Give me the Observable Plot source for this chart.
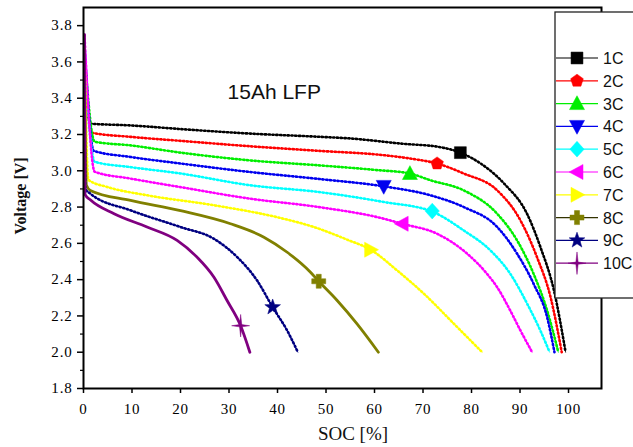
<!DOCTYPE html>
<html><head><meta charset="utf-8">
<script src="https://cdn.jsdelivr.net/npm/d3@7"></script>
<script src="https://cdn.jsdelivr.net/npm/@observablehq/plot@0.6"></script>
<style>body{margin:0;background:#fff}</style>
</head><body><div id="chart"></div>
<script>
// ---- data ----
const seriesNames = ["1C","2C","3C","4C","5C","6C","7C","8C","9C","10C"];
const seriesColors = ["#000000","#ff0000","#00ee00","#0000ee","#00ffff","#ff00ff","#ffff00","#808000","#000080","#800080"];
const c1 = [[0.2,3.55],[1.4,3.26],[9.7,3.25],[20,3.23],[34.4,3.205],[48.9,3.187],[55.1,3.178],[65.4,3.15],[73.6,3.13],[77.7,3.10],[81.9,3.04],[86.7,2.93],[91.5,2.76],[94.2,2.58],[97,2.34],[99.4,2.0]];
const c2 = [[0.2,3.6],[1.6,3.21],[9.7,3.187],[20,3.165],[34.4,3.135],[48.5,3.11],[61.9,3.086],[68,3.065],[72.9,3.04],[78.4,2.985],[85.3,2.892],[90.1,2.726],[93.5,2.524],[96.3,2.303],[98.6,2.0]];
const c3 = [[0.2,3.65],[2.3,3.16],[9.7,3.14],[20,3.10],[34.4,3.057],[48.5,3.03],[60,3.005],[67.3,2.985],[71.5,2.948],[78.4,2.892],[85.3,2.763],[89.4,2.616],[92.8,2.432],[95.6,2.229],[97.9,2.0]];
const c4 = [[0.2,3.7],[2.1,3.11],[9.7,3.076],[20,3.04],[34.4,2.993],[48.5,2.955],[61.9,2.914],[71.5,2.865],[78.4,2.80],[85.3,2.69],[89.4,2.543],[92.8,2.377],[95.6,2.192],[97.1,2.0]];
const c5 = [[0.2,3.62],[2.3,3.05],[9.7,3.02],[20,2.985],[34.4,2.92],[48.5,2.883],[61.9,2.828],[71.9,2.775],[78.4,2.671],[83.9,2.561],[88,2.432],[91.5,2.266],[94.2,2.119],[96.1,2.0]];
const c6 = [[0.2,3.75],[2.3,2.995],[9.7,2.957],[20,2.91],[34.4,2.846],[48.5,2.80],[61.9,2.736],[65.7,2.708],[72.9,2.653],[79.1,2.543],[83.2,2.432],[85.3,2.358],[88,2.229],[90.1,2.119],[92.5,2.0]];
const c7 = [[0.2,3.68],[1.0,2.95],[5,2.91],[13.1,2.865],[26.9,2.81],[40.6,2.74],[47.5,2.69],[54.4,2.62],[59.2,2.565],[64.7,2.45],[70.2,2.322],[76.4,2.156],[82.2,2.0]];
const c8 = [[0.2,3.6],[0.6,2.92],[1.4,2.892],[9.7,2.837],[20,2.78],[30.3,2.708],[37.2,2.634],[42,2.551],[46.8,2.441],[48.5,2.391],[52.3,2.285],[56.4,2.156],[60.8,2.0]];
const c9 = [[0.2,3.5],[0.4,2.9],[1.4,2.874],[9.7,2.782],[20,2.69],[26.9,2.625],[31.7,2.524],[35.8,2.395],[39,2.248],[42,2.119],[44.2,2.0]];
const c10 = [[0.2,3.75],[0.3,2.87],[1.4,2.84],[6.3,2.763],[13.1,2.69],[19.3,2.616],[23.4,2.524],[26.9,2.413],[29.6,2.285],[32.4,2.146],[34.3,2.0]];
const curves = [c1,c2,c3,c4,c5,c6,c7,c8,c9,c10];
const markerSoc = [77.7,72.9,67.3,61.9,71.9,65.7,59.2,48.5,39.0,32.4];
const markerV   = [3.10,3.04,2.985,2.914,2.778,2.708,2.565,2.391,2.248,2.146];
const xTicks = [0,10,20,30,40,50,60,70,80,90,100];
const yTicks = [1.8,2.0,2.2,2.4,2.6,2.8,3.0,3.2,3.4,3.6,3.8];
const yMinor = [1.9,2.1,2.3,2.5,2.7,2.9,3.1,3.3,3.5,3.7];
const titleText = "15Ah LFP";

const serif = "'Liberation Serif', serif";
const sans = "'Liberation Sans', Arial, sans-serif";

// ---- symbols ----
const poly = (pts) => ({draw(ctx, size){ const r = Math.sqrt(size/Math.PI);
  ctx.moveTo(pts[0][0]*r, pts[0][1]*r); for (let i=1;i<pts.length;i++) ctx.lineTo(pts[i][0]*r, pts[i][1]*r); ctx.closePath(); }});
const ring = (n, ro, ri, rot) => { const p=[]; for(let i=0;i<n*2;i++){const a=rot+i*Math.PI/n; const rr=i%2?ri:ro; p.push([rr*Math.cos(a), rr*Math.sin(a)]);} return p; };
const pent = []; for (let i=0;i<5;i++){const a=-Math.PI/2+i*2*Math.PI/5; pent.push([Math.cos(a)*0.95, Math.sin(a)*0.95]);}
const w = 0.36;
const symbols = [
  poly([[-0.85,-0.85],[0.85,-0.85],[0.85,0.85],[-0.85,0.85]]),
  poly(pent),
  poly([[0,-1.05],[1,0.8],[-1,0.8]]),
  poly([[0,1.05],[1,-0.8],[-1,-0.8]]),
  poly([[0,-1.05],[0.95,0],[0,1.05],[-0.95,0]]),
  poly([[-1.05,0],[0.8,-1],[0.8,1]]),
  poly([[1.05,0],[-0.8,-1],[-0.8,1]]),
  poly([[-w,-1],[w,-1],[w,-w],[1,-w],[1,w],[w,w],[w,1],[-w,1],[-w,w],[-1,w],[-1,-w],[-w,-w]]),
  poly(ring(5,1.1,0.45,-Math.PI/2)),
  poly([[0,-1.5],[0.15,-0.15],[1.2,0],[0.15,0.15],[0,1.5],[-0.15,0.15],[-1.2,0],[-0.15,-0.15]])
];
const markerR = [7,7,7.5,7.5,7.5,7.5,7.5,7,7.5,7.5];
const lineW = [0.8,0.8,0.8,0.8,0.8,0.8,0.8,2.8,0.8,2.8];

const marks = [];
curves.forEach((c,i) => {
  const data = c.map(([x,y]) => ({x,y}));
  marks.push(Plot.line(data, {x:"x", y:"y", stroke: seriesColors[i], strokeWidth: lineW[i], curve:"monotone-x"}));
  if (lineW[i] < 2) marks.push(Plot.line(data, {x:"x", y:"y", stroke: seriesColors[i], strokeWidth: 2.6, strokeDasharray:"1.2,2.6", curve:"monotone-x"}));
});
seriesNames.forEach((n,i) => {
  marks.push(Plot.dot([{x:markerSoc[i], y:markerV[i]}], {x:"x", y:"y", r: markerR[i], symbol: symbols[i], fill: seriesColors[i], stroke: seriesColors[i], strokeWidth: 0.5}));
});
marks.push(Plot.text([{x:29.7, y:3.434, t:titleText}], {x:"x", y:"y", text:"t", textAnchor:"start", fontSize:21, fontFamily: sans, fill:"#111"}));
marks.push(Plot.axisX({ticks: xTicks, tickSize: 5, tickPadding: 10, label: null, strokeWidth: 1.5, fontFamily: serif, fontSize: 15}));
marks.push(Plot.axisY({ticks: yTicks, tickSize: 6, tickPadding: 5, label: null, strokeWidth: 1.5, tickFormat: d3.format(".1f"), fontFamily: serif, fontSize: 15}));
marks.push(Plot.axisY({ticks: yMinor, tickSize: 3, text: null, label: null, strokeWidth: 1.2}));
marks.push(Plot.frame({stroke: "#000", strokeWidth: 2}));

const plot = Plot.plot({
  width: 633, height: 447,
  marginLeft: 83, marginRight: 32, marginTop: 7, marginBottom: 59,
  x: {domain: [0, 106.8]},
  y: {domain: [1.8, 3.9]},
  style: {fontSize: "14px", color: "#000", background: "#fff"},
  marks
});
document.getElementById("chart").appendChild(plot);

const svg = d3.select(plot);
svg.selectAll("text").filter(function(){ return this.closest("g[aria-label='x-axis tick label'], g[aria-label='y-axis tick label']"); })
  .style("font-family", serif).style("letter-spacing", "0.8px");

// ---- legend & axis labels ----
const lg = svg.append("g").attr("text-anchor","start");
lg.append("rect").attr("x",555).attr("y",12).attr("width",100).attr("height",286).attr("fill","#fff").attr("stroke","#222").attr("stroke-width",1.3);
const legendLineColors = ["#000","#ff0000","#00ee00","#0000ee","#00ffff","#ff00ff","#ffff00","#333300","#000080","#800080"];
seriesNames.forEach((n,i) => {
  const yy = 58 + i*22.8;
  lg.append("line").attr("x1",556).attr("x2",598).attr("y1",yy).attr("y2",yy).attr("stroke",legendLineColors[i]).attr("stroke-width",1.2);
  lg.append("path").attr("transform",`translate(577,${yy})`).attr("d", d3.symbol(symbols[i], Math.PI*markerR[i]*markerR[i])()).attr("fill",seriesColors[i]).attr("stroke",seriesColors[i]).attr("stroke-width",0.5);
  lg.append("text").attr("x",603).attr("y",yy+6).attr("text-anchor","start").style("font-family", sans).style("font-size","16px").attr("fill","#111").text(n);
});
svg.append("text").attr("x",353).attr("y",440).attr("text-anchor","middle").style("font-family", serif).style("font-size","19px").attr("fill","#111").text("SOC [%]");
svg.append("text").attr("transform","translate(26,196) rotate(-90)").attr("text-anchor","middle").style("font-family", serif).style("font-weight","bold").style("font-size","16px").attr("fill","#111").text("Voltage [V]");
</script>
</body></html>
